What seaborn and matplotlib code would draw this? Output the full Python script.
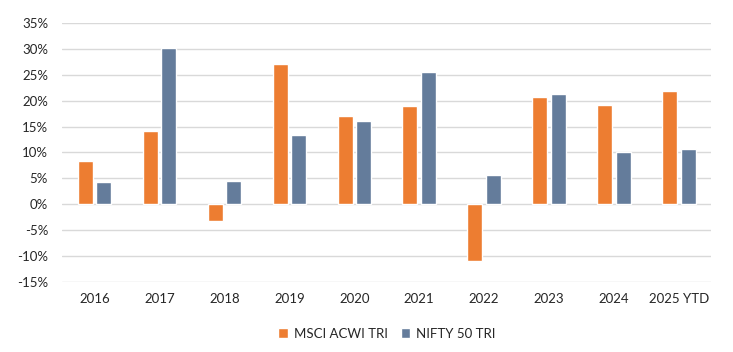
import matplotlib
matplotlib.use("Agg")
import matplotlib.pyplot as plt
import matplotlib.ticker as mtick
import pandas as pd
import seaborn as sns

# yearly returns, %
years = ['2016', '2017', '2018', '2019', '2020', '2021', '2022', '2023', '2024', '2025 YTD']
msci_acwi = [8.3, 14.1, -3.2, 27.1, 17.0, 19.0, -11.0, 20.7, 19.2, 21.9]
nifty_50 = [4.3, 30.2, 4.5, 13.4, 16.1, 25.6, 5.6, 21.3, 10.1, 10.7]
series_names = ['MSCI ACWI TRI', 'NIFTY 50 TRI']

df = pd.DataFrame({
    'year': years * 2,
    'ret': msci_acwi + nifty_50,
    'index': [series_names[0]] * len(years) + [series_names[1]] * len(years),
})

sns.set_style('white')
plt.rcParams['font.family'] = ['Lato', 'DejaVu Sans']

fig = plt.figure(figsize=(7.33, 3.52), dpi=100)
ax = fig.add_axes([0.0846, 0.199, 0.886, 0.736])

palette = {series_names[0]: '#ED7D31', series_names[1]: '#647C9B'}
sns.barplot(data=df, x='year', y='ret', hue='index', palette=palette,
            width=0.57, gap=0.19, saturation=1, ax=ax, zorder=3)

ax.set_ylim(-15, 35)
ax.set_yticks(range(-15, 36, 5))
ax.yaxis.set_major_formatter(mtick.FuncFormatter(lambda v, p: f'{v:.0f}%'))
ax.set_xlim(-0.5, len(years) - 0.5)
ax.grid(axis='y', color='#D9D9D9', linewidth=1, zorder=0)
ax.set_axisbelow(True)
for s in ax.spines.values():
    s.set_visible(False)
ax.set_xlabel('')
ax.set_ylabel('')
ax.tick_params(axis='both', length=0, labelsize=9.5, colors='#262626')
ax.tick_params(axis='x', pad=8)
ax.tick_params(axis='y', pad=10)

ax.legend(loc='upper center', bbox_to_anchor=(0.5, -0.13), ncol=2, frameon=False,
          fontsize=9.5, handlelength=0.75, handleheight=0.75, handletextpad=0.4,
          columnspacing=1.0, labelcolor='#262626')

fig.savefig('out.png', dpi=100)
